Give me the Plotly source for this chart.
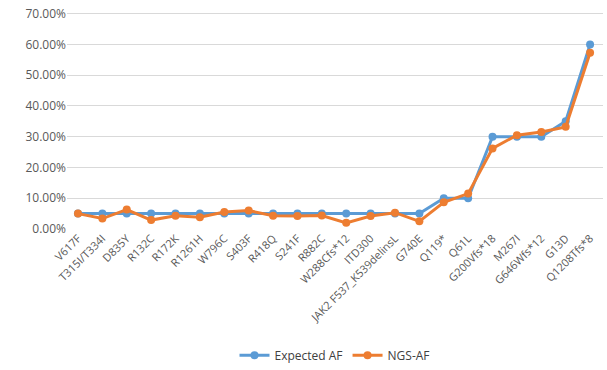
import plotly.graph_objects as go

categories = ["V617F", "T315I/T334I", "D835Y", "R132C", "R172K", "R1261H", "W796C",
              "S403F", "R418Q", "S241F", "R882C", "W288Cfs*12", "ITD300",
              "JAK2 F537_K539delinsL", "G740E", "Q119*", "Q61L", "G200Vfs*18",
              "M267I", "G646Wfs*12", "G13D", "Q1208Tfs*8"]
expected_af = [0.05, 0.05, 0.05, 0.05, 0.05, 0.05, 0.05, 0.05, 0.05, 0.05, 0.05,
               0.05, 0.05, 0.05, 0.05, 0.10, 0.10, 0.30, 0.30, 0.30, 0.35, 0.60]
ngs_af = [0.050, 0.034, 0.063, 0.029, 0.043, 0.038, 0.055, 0.060, 0.043, 0.042, 0.044,
          0.020, 0.042, 0.053, 0.025, 0.087, 0.115, 0.262, 0.305, 0.315, 0.332, 0.573]
y_ticks = [0, 0.1, 0.2, 0.3, 0.4, 0.5, 0.6, 0.7]

fig = go.Figure()
fig.add_trace(go.Scatter(x=categories, y=expected_af, mode="lines+markers", name="Expected AF",
                         line=dict(color="#5B9BD5", width=3), marker=dict(size=8, color="#5B9BD5")))
fig.add_trace(go.Scatter(x=categories, y=ngs_af, mode="lines+markers", name="NGS-AF",
                         line=dict(color="#ED7D31", width=3), marker=dict(size=8, color="#ED7D31")))

fig.update_layout(
    width=607, height=370,
    margin=dict(l=67, r=4, t=9, b=141),
    paper_bgcolor="white", plot_bgcolor="white",
    font=dict(family="Open Sans", size=11, color="#595959"),
    legend=dict(orientation="h", x=0.5, xanchor="center", yref="container", y=0.04,
                yanchor="middle", font=dict(size=12, color="#404040")),
    xaxis=dict(type="category", range=[-0.45, 21.53], tickangle=-45, showgrid=False,
               showline=False, ticks="", tickfont=dict(size=11)),
    yaxis=dict(range=[0, 0.715], tickvals=y_ticks, tickformat=".2%", showgrid=True,
               gridcolor="#D9D9D9", gridwidth=1, zeroline=False, ticks="",
               tickfont=dict(size=12)),
)
fig.write_html("out.html")
